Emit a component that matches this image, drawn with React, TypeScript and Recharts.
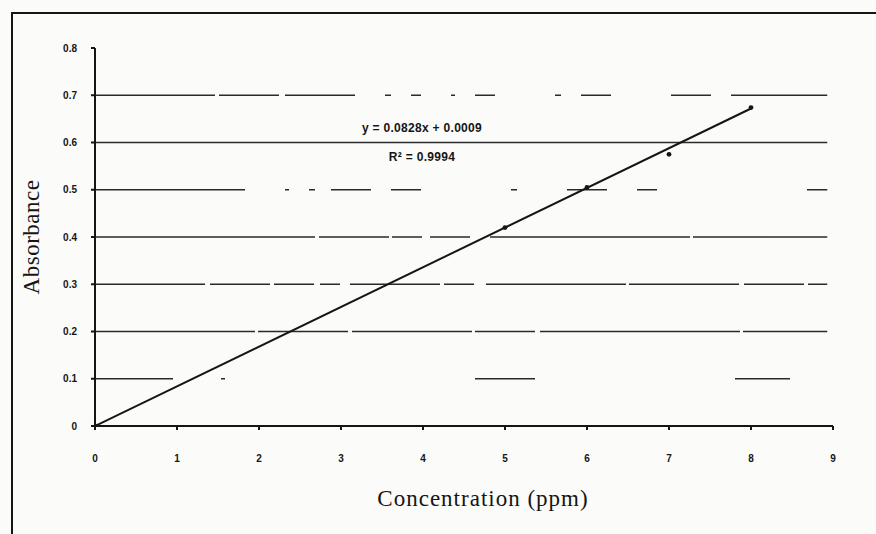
import React from 'react';
import {
  ComposedChart,
  Line,
  Scatter,
  XAxis,
  YAxis,
  ReferenceLine,
  Label,
} from 'recharts';

// calibration standards
const concentrations = [0, 5, 6, 7, 8];
const absorbances = [0, 0.42, 0.505, 0.575, 0.674];

// fitted line, endpoints as drawn
const trendX = [0, 8];
const trendY = [0, 0.672];

const xTicks = [0, 1, 2, 3, 4, 5, 6, 7, 8, 9];
const yTicks = [0, 0.1, 0.2, 0.3, 0.4, 0.5, 0.6, 0.7, 0.8];
const gridValues = [0.1, 0.2, 0.3, 0.4, 0.5, 0.6, 0.7];

const equationText = 'y = 0.0828x + 0.0009';
const r2Text = 'R² = 0.9994';

const points = concentrations.map((x, i) => ({ x, y: absorbances[i] }));
const trend = trendX.map((x, i) => ({ x, y: trendY[i] }));

// the scanned gridlines are broken up, mimic that per line
const gridDash: Record<string, string> = {
  '0.1': '78 48 4 250 60 200 55 2000',
  '0.2': '160 3 90 4 120 3 60 5 200 3',
  '0.3': '110 5 60 4 40 6 20 10 90 4 30 12 140 3',
  '0.4': '220 4 70 3 30 8 40 20 200 3',
  '0.5': '150 40 4 20 6 16 40 20 30 90 6 50 40 30 20',
  '0.6': '0',
  '0.7': '120 4 60 6 70 30 6 20 10 30 4 20 20 60 6 20 30 60 40 20',
};

const ink = '#151515';

const eqStyle: React.CSSProperties = {
  position: 'absolute',
  left: 322,
  width: 200,
  textAlign: 'center',
  fontFamily: 'Liberation Sans',
  fontSize: 12,
  fontWeight: 700,
  letterSpacing: 0.3,
  color: ink,
  lineHeight: '14px',
};

export default function App() {
  return (
    <div
      style={{
        position: 'fixed',
        left: 0,
        top: 0,
        width: 876,
        height: 534,
        background: '#fbfbf9',
        overflow: 'hidden',
      }}
    >
      {/* scan frame */}
      <div
        style={{
          position: 'absolute',
          left: 11,
          top: 12,
          width: 876,
          height: 540,
          borderTop: `2px solid ${ink}`,
          borderLeft: `2px solid ${ink}`,
        }}
      />
      <ComposedChart
        width={876}
        height={534}
        margin={{ top: 48, right: 43, bottom: 22, left: 45 }}
        style={{ position: 'absolute', left: 0, top: 0 }}
      >
        <XAxis
          type="number"
          dataKey="x"
          domain={[0, 9]}
          ticks={xTicks}
          allowDataOverflow
          height={86}
          tickSize={4}
          tickMargin={25}
          stroke={ink}
          strokeWidth={2}
          tick={{ fill: ink, fontSize: 10, fontWeight: 700, fontFamily: 'Liberation Sans' }}
        >
          <Label
            value="Concentration (ppm)"
            position="insideBottom"
            offset={6}
            dx={19}
            style={{ fill: ink, fontSize: 23, letterSpacing: 1, fontFamily: 'Liberation Serif' }}
          />
        </XAxis>
        <YAxis
          type="number"
          dataKey="y"
          domain={[0, 0.8]}
          ticks={yTicks}
          allowDataOverflow
          width={50}
          tickSize={4}
          tickMargin={14}
          stroke={ink}
          strokeWidth={2}
          tick={{ fill: ink, fontSize: 10, fontWeight: 700, fontFamily: 'Liberation Sans' }}
        >
          <Label
            value="Absorbance"
            angle={-90}
            position="insideLeft"
            offset={-14}
            style={{ fill: ink, fontSize: 23, letterSpacing: 0.5, fontFamily: 'Liberation Serif', textAnchor: 'middle' }}
          />
        </YAxis>
        {gridValues.map((v) => (
          <ReferenceLine
            key={v}
            segment={[
              { x: 0, y: v },
              { x: 8.93, y: v },
            ]}
            stroke="#2a2a2a"
            strokeWidth={1.7}
            strokeDasharray={gridDash[String(v)]}
          />
        ))}
        <Line
          data={trend}
          dataKey="y"
          type="linear"
          stroke={ink}
          strokeWidth={2}
          dot={false}
          activeDot={false}
          isAnimationActive={false}
        />
        <Scatter
          data={points}
          dataKey="y"
          fill={ink}
          isAnimationActive={false}
          shape={(p: any) => <circle cx={p.cx} cy={p.cy} r={2.4} fill={ink} />}
        />
      </ComposedChart>
      <div style={{ ...eqStyle, top: 121 }}>{equationText}</div>
      <div style={{ ...eqStyle, top: 150 }}>{r2Text}</div>
    </div>
  );
}
